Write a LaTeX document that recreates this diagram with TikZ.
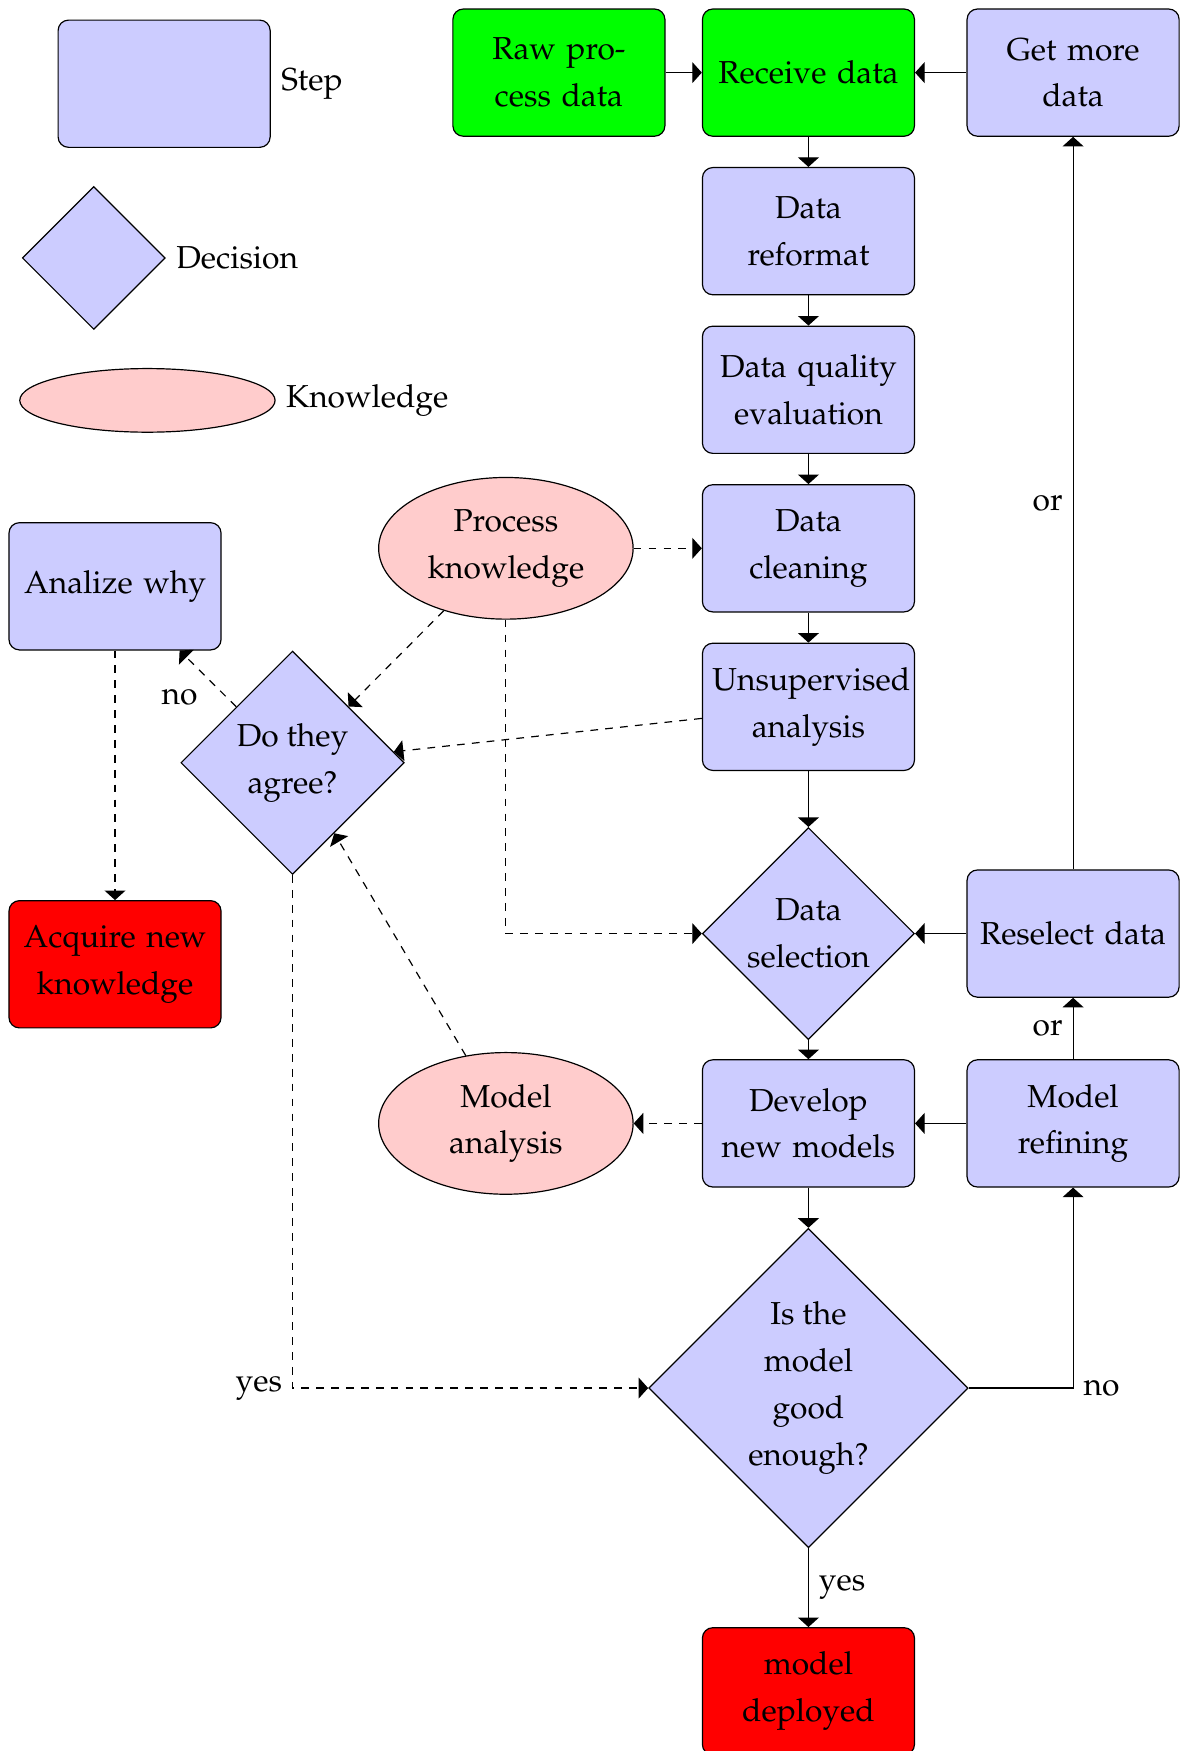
\documentclass[tikz,border=0pt]{standalone}
\usepackage[T1]{fontenc}
\usepackage{mathpazo}
\usetikzlibrary{shapes.geometric,arrows.meta}

\tikzset{
    >={Triangle[width=7pt,length=3.2pt]},
    stepbox/.style={draw, rounded corners=3.5pt, fill=blue!20, minimum width=2.5cm, minimum height=1.5cm, text width=2.265cm, align=center},
    decision/.style={draw, diamond, aspect=1, fill=blue!20, inner sep=0pt, align=center},
    knowledge/.style={draw, ellipse, fill=red!20, minimum width=3cm, minimum height=1.67cm, inner sep=0pt, align=center},
    hint/.style={dash pattern=on 2.6pt off 2.4pt}
}

\begin{document}
\begin{tikzpicture}[font=\fontsize{10.65pt}{15.7pt}\selectfont]
                \useasboundingbox (0,0) rectangle (13.928,-20.643);
                % legend
                \node[stepbox] (legstep) at (1.935,-0.987) {};
                \node[anchor=west] (legsteptxt) at (legstep.east) {Step};
                \node[decision, minimum size=1.685cm] (legdec) at (1.106,-3.041) {};
                \node[anchor=west] (legdectxt) at (legdec.east) {Decision};
                \node[knowledge, minimum width=3.01cm, minimum height=0.75cm] (legknow) at (1.738,-4.720) {};
                \node[anchor=west] (legknowtxt) at (legknow.east) {Knowledge};

                % main flow
                \node[stepbox, fill=green] (raw) at (6.589,-0.856) {Raw pro-\\cess data};
                \node[stepbox, fill=green] (receive) at (9.531,-0.856) {Receive data};
                \node[stepbox] (more) at (12.651,-0.856) {Get more\\data};
                \node[stepbox] (reformat) at (9.531,-2.725) {Data\\reformat};
                \node[stepbox] (quality) at (9.531,-4.595) {Data quality\\evaluation};
                \node[stepbox] (cleaning) at (9.531,-6.464) {Data\\cleaning};
                \node[stepbox] (unsup) at (9.531,-8.333) {Unsupervised\\analysis};
                \node[decision, minimum size=2.5cm] (select) at (9.531,-11.006) {Data\\selection};
                \node[stepbox] (reselect) at (12.651,-11.006) {Reselect data};
                \node[stepbox] (develop) at (9.531,-13.244) {Develop\\new models};
                \node[stepbox] (refine) at (12.651,-13.244) {Model\\refining};
                \node[decision, minimum size=3.765cm] (good) at (9.531,-16.364) {Is the\\model\\good\\enough?};
                \node[stepbox, fill=red] (deployed) at (9.531,-19.939) {model\\deployed};

                % knowledge side
                \node[knowledge] (procknow) at (5.964,-6.464) {Process\\knowledge};
                \node[knowledge] (modana) at (5.964,-13.244) {Model\\analysis};
                \node[stepbox] (why) at (1.356,-6.912) {Analize why};
                \node[decision, minimum size=2.633cm] (agree) at (3.449,-8.992) {Do they\\agree?};
                \node[stepbox, fill=red] (acquire) at (1.356,-11.368) {Acquire new\\knowledge};

                \draw[->] (raw) to (receive); \draw[->] (more) to (receive); \draw[->] (receive) to (reformat); \draw[->] (reformat) to (quality); \draw[->] (quality) to (cleaning);
                \draw[->] (cleaning) to (unsup); \draw[->] (unsup) to (select); \draw[->] (select) to (develop); \draw[->] (develop) to (good);
                \draw[->] (good) to node[right] {yes} (deployed); \draw[->] (good) -| node[pos=0.5, right] {no} (refine);
                \draw[->] (refine) to (develop); \draw[->] (refine) to node[left] {or} (reselect); \draw[->] (reselect) to (select); \draw[->] (reselect) to node[left] {or} (more);
                \draw[->,hint] (procknow) to (cleaning); \draw[->,hint] (procknow) to (agree); \draw[->,hint] (procknow) |- (select);
                \draw[->,hint] (unsup) to (agree); \draw[->,hint] (modana) to (agree); \draw[->,hint] (develop) to (modana);
                \draw[->,hint] (agree) to node[below left] {no} (why); \draw[->,hint] (why) to (acquire);
                \draw[->,hint] (agree) |- node[pos=0.5, left] {yes} (good);
            \end{tikzpicture}
\end{document}
